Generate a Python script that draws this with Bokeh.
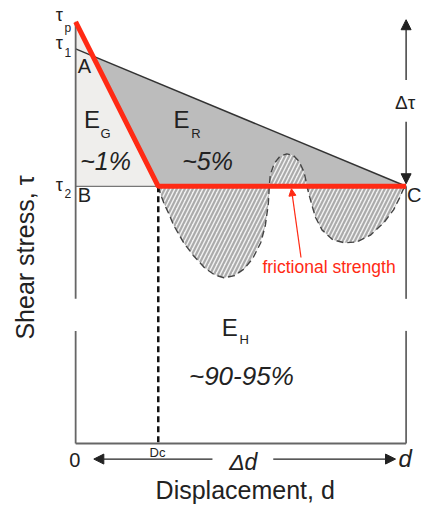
from math import pi
from bokeh.plotting import figure
from bokeh.models import Range1d, Label, Arrow, NormalHead
from bokeh.embed import file_html
from bokeh.resources import INLINE

# ---- conceptual values (displacement 0..100, shear stress in % of peak) ----
tau_p = 100.0
tau_1 = 93.6
tau_2 = 61.0
Dc = 25.0
d_end = 100.0
axis_gap = [26.7, 34.3]          # white gap in the vertical frame lines

# wavy fluctuation curve along the residual strength
curve_d = [25, 25.7, 26.8, 28.3, 29.7, 32.7, 35.6, 39.1, 42.0, 44.9,
           48.1, 51.0, 53.6, 56.0, 57.4, 58.3, 58.6,
           58.9, 60.1, 61.8, 63.9, 65.9, 67.6, 69.1, 69.7, 70.0,
           70.6, 71.4, 72.6, 74.6, 77.8, 81.3, 85.1, 89.2, 93.3, 96.2, 98.0, 99.1, 100]
curve_tau = [61, 59.1, 56.8, 54.3, 51.7, 47.6, 44.6, 41.6, 40.0, 39.3,
             39.8, 41.4, 43.9, 47.6, 51.7, 56.8, 61,
             63.7, 66.4, 68.1, 68.7, 68.3, 66.9, 64.4, 62.3, 61,
             59.1, 56.8, 53.6, 50.6, 48.3, 47.6, 47.8, 49.4, 52.4, 55.4, 58.2, 60.2, 61]

FONT = "Liberation Sans"
INK = "#222222"
RED = "#ff2a14"

p = figure(width=421, height=505, output_backend="svg", toolbar_location=None,
           x_range=Range1d(-22.74, 104.66), y_range=Range1d(-14.71, 105.06),
           x_axis_location=None, y_axis_location=None, min_border=0)
p.grid.visible = False
p.outline_line_color = None
p.background_fill_color = "white"
p.border_fill_color = "white"

# intersection A of the weakening line with the tau_1 -> C line
s_red = (tau_2 - tau_p) / Dc
s_blk = (tau_2 - tau_1) / d_end
A_d = (tau_1 - tau_p) / (s_red - s_blk)
A_tau = tau_p + s_red * A_d

# E_G region
p.patch([0, Dc, 0], [tau_p, tau_2, tau_2], fill_color="#efeeec", line_color=None)
# E_R region
p.patch([A_d, d_end, Dc], [A_tau, tau_2, tau_2], fill_color="#bcbcbc", line_color=None)
# hatched fluctuation region
p.patch(curve_d, curve_tau, fill_color="#f2f2f2", line_color=None,
        hatch_pattern="/", hatch_color="#ababab", hatch_scale=8, hatch_weight=2.2)
p.line(curve_d, curve_tau, line_color="#444444", line_width=1.4, line_dash="7 4")

# tau_1 -> C line
p.line([0, d_end], [tau_1, tau_2], line_color="#333333", line_width=1.5)
# B line
p.line([0, Dc], [tau_2, tau_2], line_color="#777777", line_width=1.2)
# Dc dashed vertical
p.line([Dc, Dc], [tau_2, 0], line_color="#111111", line_width=2.5, line_dash="6 4")

# frame lines
frame_col = "#666666"
p.line([0, 0], [tau_p, axis_gap[1]], line_color=frame_col, line_width=1.8)
p.line([0, 0], [axis_gap[0], 0], line_color=frame_col, line_width=1.8)
p.line([d_end, d_end], [tau_2, axis_gap[1]], line_color=frame_col, line_width=1.8)
p.line([d_end, d_end], [axis_gap[0], 0], line_color=frame_col, line_width=1.8)
p.line([0, d_end], [0, 0], line_color=frame_col, line_width=1.8)

# red strength path
p.line([0, Dc, d_end], [tau_p, tau_2, tau_2], line_color=RED, line_width=5)

# ---- labels: text, d, tau, size, style, color, align ----
labels = [
    ("τ", -4.96, 101.6, 18, "normal", INK, "center"),
    ("p", -2.33, 98.6, 12, "normal", INK, "center"),
    ("τ", -4.96, 94.9, 18, "normal", INK, "center"),
    ("1", -2.33, 92.7, 12, "normal", INK, "center"),
    ("τ", -4.96, 61.4, 18, "normal", INK, "center"),
    ("2", -2.33, 59.2, 12, "normal", INK, "center"),
    ("A", 2.62, 89.6, 20, "normal", INK, "center"),
    ("B", 2.62, 59.0, 20, "normal", INK, "center"),
    ("C", 100.3, 59.0, 20, "normal", INK, "left"),
    ("E", 4.96, 76.8, 24, "normal", INK, "center"),
    ("G", 9.04, 73.4, 13, "normal", INK, "center"),
    ("~1%", 9.04, 66.9, 25, "italic", INK, "center"),
    ("E", 32.07, 76.8, 24, "normal", INK, "center"),
    ("R", 36.44, 73.4, 13, "normal", INK, "center"),
    ("~5%", 39.94, 66.9, 25, "italic", INK, "center"),
    ("E", 46.65, 27.4, 24, "normal", INK, "center"),
    ("H", 51.02, 24.6, 13, "normal", INK, "center"),
    ("~90-95%", 50.15, 16.1, 26, "italic", INK, "center"),
    ("frictional strength", 76.68, 41.8, 17.5, "normal", RED, "center"),
    ("Δτ", 99.71, 80.9, 19, "normal", INK, "center"),
    ("0", -0.29, -3.9, 20, "normal", INK, "center"),
    ("Dc", 24.78, -2.1, 13, "normal", INK, "center"),
    ("Δd", 50.73, -4.4, 23, "italic", INK, "center"),
    ("d", 99.71, -3.5, 24, "italic", INK, "center"),
    ("Displacement, d", 51.31, -11.0, 25, "normal", INK, "center"),
]
for t, x, y, s, st, c, al in labels:
    p.add_layout(Label(x=x, y=y, text=t, text_font=FONT, text_font_size=f"{s}px",
                       text_font_style=st, text_color=c, text_align=al,
                       text_baseline="middle"))

p.add_layout(Label(x=-15.45, y=44.1, text="Shear stress, τ", text_font=FONT,
                   text_font_size="25px", text_color=INK, angle=pi / 2,
                   text_align="center", text_baseline="middle"))

# arrows
def arrow(x0, y0, x1, y1, color=INK, size=10, width=1.3):
    p.add_layout(Arrow(end=NormalHead(size=size, fill_color=color, line_color=color),
                       x_start=x0, y_start=y0, x_end=x1, y_end=y1,
                       line_color=color, line_width=width))

arrow(d_end, 86.2, d_end, 100.5)
arrow(d_end, 76.3, d_end, tau_2 + 0.6)
arrow(41.4, -3.7, 5.5, -3.7)
arrow(59.8, -3.7, 96.8, -3.7)
arrow(68.2, 44.1, 65.3, tau_2 - 0.6, color=RED, size=7, width=1.2)

open("out.html", "w").write(file_html(p, INLINE))
